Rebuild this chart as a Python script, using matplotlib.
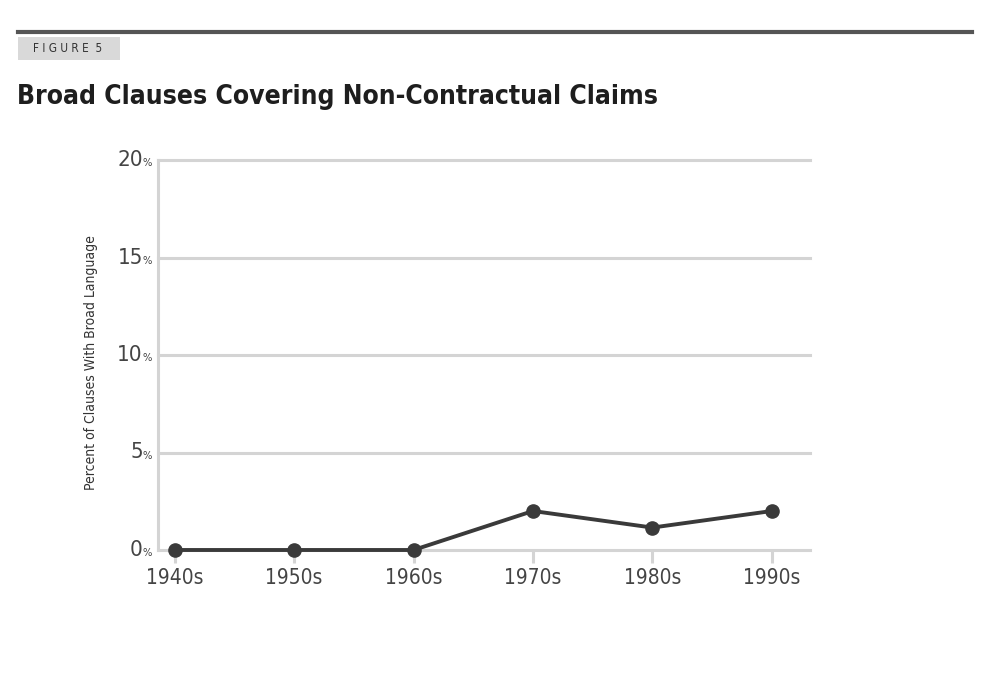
import matplotlib
matplotlib.use("Agg")
import matplotlib.pyplot as plt
from matplotlib.patches import Rectangle
from matplotlib.lines import Line2D

decades = ["1940s", "1950s", "1960s", "1970s", "1980s", "1990s"]
pct_broad = [0.0, 0.0, 0.0, 2.0, 1.15, 2.0]
y_ticks = [0, 5, 10, 15, 20]

plt.rcParams["font.family"] = ["DejaVu Sans"]
plt.rcParams["font.stretch"] = "condensed"

fig = plt.figure(figsize=(9.9, 6.78), dpi=100)
W, H = 990, 678

# top rule, figure tag, title
fig.add_artist(Line2D([18 / W, 972 / W], [1 - 32 / H, 1 - 32 / H], color="#555555", lw=3))
fig.add_artist(Rectangle((18 / W, 1 - 60 / H), 102 / W, 23 / H, color="#d9d9d9", lw=0))
fig.text(33 / W, 1 - 48.5 / H, "F I G U R E  5", fontsize=8.5,
         color="#333333", va="center")
fig.text(17 / W, 1 - 104 / H, "Broad Clauses Covering Non-Contractual Claims",
         fontsize=19, fontweight="bold", color="#1e1e1e", va="baseline")

ax = fig.add_axes([158 / W, 1 - 550 / H, 652 / W, 390 / H])
x = list(range(len(decades)))
ax.set_xlim(-0.14, 5.32)
ax.set_ylim(0, 20)

grid_c = "#d4d4d4"
for v in y_ticks:
    ax.axhline(v, color=grid_c, lw=2.2, zorder=1, clip_on=False)
    ax.annotate(str(v), xy=(0, v), xycoords=("axes fraction", "data"),
                xytext=(-11, 0), textcoords="offset points",
                ha="right", va="center", fontsize=16, color="#444444")
    ax.annotate("%", xy=(0, v), xycoords=("axes fraction", "data"),
                xytext=(-11, -2.5), textcoords="offset points",
                ha="left", va="center", fontsize=8, color="#444444")

ax.plot(x, pct_broad, color="#3a3a3a", lw=2.8, marker="o", markersize=9.5,
        zorder=3, clip_on=False)

for s in ["top", "right", "bottom"]:
    ax.spines[s].set_visible(False)
ax.spines["left"].set_color(grid_c)
ax.spines["left"].set_linewidth(2.2)

ax.set_yticks([])
ax.set_xticks(x)
ax.set_xticklabels(decades, fontsize=15, color="#444444")
ax.tick_params(axis="x", length=9, width=2.2, color=grid_c, pad=4)

ax.set_ylabel("Percent of Clauses With Broad Language", fontsize=10, color="#333333")
ax.yaxis.set_label_coords(-0.092, 0.48)

fig.savefig("out.png", dpi=100)
